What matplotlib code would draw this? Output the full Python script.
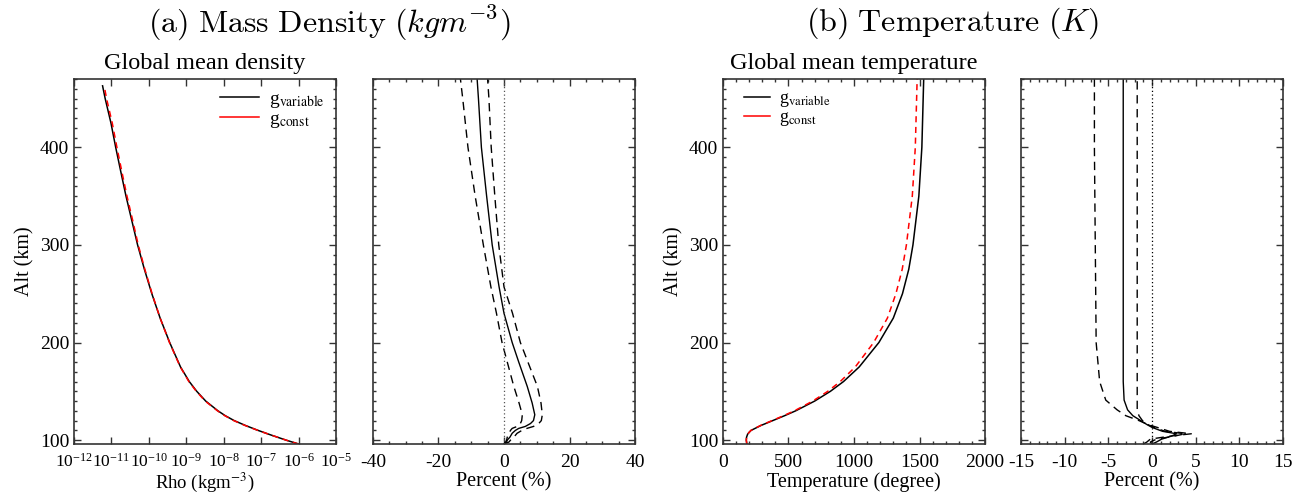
import numpy as np
import matplotlib
matplotlib.use("Agg")
import matplotlib.pyplot as plt
from matplotlib.ticker import MultipleLocator, LogLocator, NullLocator, FixedLocator

plt.rcParams["font.family"] = ["Liberation Serif", "DejaVu Serif"]
plt.rcParams["mathtext.fontset"] = "stix"
plt.rcParams["axes.unicode_minus"] = False

# --- (a) global mean density profile (kg m^-3)
alt_rho = [96, 100, 105, 110, 115, 120, 125, 130, 140, 150, 160, 175, 200, 225, 250,
           275, 300, 325, 350, 375, 400, 425, 450, 463]
rho_var = [1.0e-6, 4.6e-7, 1.9e-7, 8.2e-8, 3.8e-8, 1.9e-8, 1.1e-8, 7.0e-9, 3.3e-9,
           1.9e-9, 1.2e-9, 7.0e-10, 3.6e-10, 2.0e-10, 1.2e-10, 7.6e-11, 5.0e-11,
           3.5e-11, 2.45e-11, 1.78e-11, 1.3e-11, 9.7e-12, 6.8e-12, 5.8e-12]
rho_const = [1.0e-6, 4.6e-7, 1.9e-7, 8.1e-8, 3.7e-8, 1.85e-8, 1.07e-8, 6.8e-9, 3.2e-9,
             1.85e-9, 1.17e-9, 6.9e-10, 3.55e-10, 2.0e-10, 1.22e-10, 7.8e-11, 5.2e-11,
             3.7e-11, 2.6e-11, 1.9e-11, 1.4e-11, 1.05e-11, 7.4e-12, 6.4e-12]

# percent difference of density: mean and spread
alt_dp = [96, 98, 100, 103, 107, 110, 112, 114, 117, 120, 126, 138, 155, 180, 200,
          230, 257, 300, 350, 400, 450, 470]
dp_mean = [0.0, 0.8, 1.0, 1.8, 2.5, 3.5, 4.5, 6.5, 8.1, 9.0, 9.4, 8.6, 7.1, 4.5, 2.5,
           0.0, -1.5, -3.6, -5.3, -6.9, -7.8, -8.2]
dp_low = [0.0, 0.5, 0.8, 1.0, 1.5, 2.0, 2.5, 4.0, 5.0, 5.4, 5.6, 4.6, 3.0, 1.0, -0.6,
          -2.3, -4.0, -6.3, -8.8, -11.0, -12.6, -13.3]
dp_high = [0.0, 1.5, 2.0, 3.0, 4.0, 5.5, 7.0, 9.0, 10.6, 11.4, 11.7, 11.3, 10.2, 7.3, 5.0,
           2.6, 0.0, -1.6, -2.8, -3.9, -4.6, -5.0]

# --- (b) global mean temperature profile (K)
alt_t = [96, 100, 103, 106, 108, 110, 115, 120, 125, 130, 140, 150, 160, 175, 200,
         225, 250, 275, 300, 350, 400, 470]
t_var = [182, 178, 180, 188, 200, 215, 290, 380, 470, 555, 700, 820, 920, 1040, 1190,
         1300, 1370, 1418, 1450, 1495, 1518, 1532]
t_const = [182, 178, 180, 188, 200, 214, 287, 375, 462, 545, 685, 800, 895, 1010, 1150,
           1255, 1320, 1368, 1400, 1445, 1468, 1482]

# percent difference of temperature: mean and spread
alt_dt = [96, 98, 101, 104, 106.5, 109, 113, 116, 120, 125, 131, 141, 160, 200, 300, 400, 470]
dt_mean = [0.0, 0.5, 1.1, 2.2, 2.8, 1.2, 0.0, -0.6, -1.3, -2.2, -2.8, -3.2, -3.3, -3.3, -3.3,
           -3.3, -3.3]
dt_low = [-1.0, -0.6, -0.2, 2.0, 4.5, 2.0, 0.6, -0.5, -1.5, -3.0, -4.0, -5.3, -6.0, -6.4,
          -6.5, -6.6, -6.6]
dt_high = [0.0, -0.2, 0.5, 2.5, 3.8, 1.5, 0.2, -0.5, -1.1, -1.5, -1.7, -1.7, -1.7, -1.7,
           -1.7, -1.7, -1.7]

ylim = (96, 470)

fig = plt.figure(figsize=(13.05, 4.99), dpi=100)
w, h = 0.2008, 0.7315
b = 0.1102
ax1 = fig.add_axes([0.0567, b, w, h])
ax2 = fig.add_axes([0.2858, b, w, h])
ax3 = fig.add_axes([0.5540, b, w, h])
ax4 = fig.add_axes([0.7824, b, w, h])

tick_fs = 14
lab_fs = 14.5


def style(ax, show_ylabels=True):
    ax.set_ylim(*ylim)
    ax.yaxis.set_major_locator(FixedLocator([100, 200, 300, 400]))
    ax.yaxis.set_minor_locator(MultipleLocator(10))
    ax.tick_params(which="both", direction="in", top=True, right=True,
                   labelsize=tick_fs, width=1.0, color="#333333")
    ax.tick_params(which="major", length=5)
    ax.tick_params(which="minor", length=2.5)
    ax.tick_params(axis="x", pad=7)
    for s in ax.spines.values():
        s.set_linewidth(1.2)
        s.set_color("#333333")
    if show_ylabels:
        ax.set_ylabel("Alt (km)", fontsize=lab_fs, labelpad=4)
    else:
        ax.set_yticklabels([])


# panel 1
ax1.plot(rho_var, alt_rho, color="black", lw=1.1, label=r"g$_{\mathrm{variable}}$")
ax1.plot(rho_const, alt_rho, color="red", lw=1.1, ls=(0, (4, 3)), label=r"g$_{\mathrm{const}}$")
ax1.set_xscale("log")
ax1.set_xlim(1e-12, 1e-5)
ax1.xaxis.set_major_locator(LogLocator(base=10, numticks=20))
ax1.xaxis.set_minor_locator(NullLocator())
style(ax1)
ax1.tick_params(axis="x", labelsize=12.5, pad=6)
ax1.set_xlabel(r"Rho (kgm$^{-3}$)", fontsize=13.5, labelpad=0)
ax1.set_title("Global mean density", fontsize=17.5, pad=7)
ax1.legend(loc="upper right", bbox_to_anchor=(1.0, 1.0), frameon=False, fontsize=14,
           handlelength=2.0, handletextpad=0.5, labelspacing=0.0, borderaxespad=0.2)
for lh in ax1.get_legend().get_lines():
    lh.set_linestyle("-")

# panel 2
ax2.plot(dp_mean, alt_dp, color="black", lw=1.0)
ax2.plot(dp_low, alt_dp, color="black", lw=1.0, ls=(0, (6, 4)))
ax2.plot(dp_high, alt_dp, color="black", lw=1.0, ls=(0, (6, 4)))
ax2.axvline(0, color="#555555", lw=0.9, ls=(0, (1, 2)))
ax2.set_xlim(-40, 40)
ax2.xaxis.set_major_locator(MultipleLocator(20))
ax2.xaxis.set_minor_locator(MultipleLocator(5))
style(ax2, show_ylabels=False)
ax2.set_xlabel("Percent (%)", fontsize=lab_fs, labelpad=1)

# panel 3
ax3.plot(t_var, alt_t, color="black", lw=1.1, label=r"g$_{\mathrm{variable}}$")
ax3.plot(t_const, alt_t, color="red", lw=1.1, ls=(0, (4, 3)), label=r"g$_{\mathrm{const}}$")
ax3.set_xlim(0, 2000)
ax3.xaxis.set_major_locator(MultipleLocator(500))
ax3.xaxis.set_minor_locator(MultipleLocator(100))
style(ax3)
ax3.set_xlabel("Temperature (degree)", fontsize=lab_fs, labelpad=1)
ax3.set_title("Global mean temperature", fontsize=17.5, pad=7)
ax3.legend(loc="upper left", bbox_to_anchor=(0.04, 1.0), frameon=False, fontsize=13,
           handlelength=1.45, handletextpad=0.5, labelspacing=0.0, borderaxespad=0.2)
for lh in ax3.get_legend().get_lines():
    lh.set_linestyle("-")

# panel 4
ax4.plot(dt_mean, alt_dt, color="black", lw=1.0)
ax4.plot(dt_low, alt_dt, color="black", lw=1.0, ls=(0, (6, 4)))
ax4.plot(dt_high, alt_dt, color="black", lw=1.0, ls=(0, (6, 4)))
ax4.axvline(0, color="black", lw=0.9, ls=(0, (1, 2)))
ax4.set_xlim(-15, 15)
ax4.xaxis.set_major_locator(MultipleLocator(5))
ax4.xaxis.set_minor_locator(MultipleLocator(1))
style(ax4, show_ylabels=False)
ax4.set_xlabel("Percent (%)", fontsize=lab_fs, labelpad=1)

# panel headers
fig.text(329 / 1305, 1 - 23 / 499, r"$\mathrm{(a)\ Mass\ Density}\ (kgm^{-3})$",
         ha="center", va="center", fontsize=23, math_fontfamily="cm")
fig.text(953 / 1305, 1 - 23 / 499, r"$\mathrm{(b)\ Temperature}\ (K)$",
         ha="center", va="center", fontsize=23, math_fontfamily="cm")

fig.savefig("out.png", dpi=100)
